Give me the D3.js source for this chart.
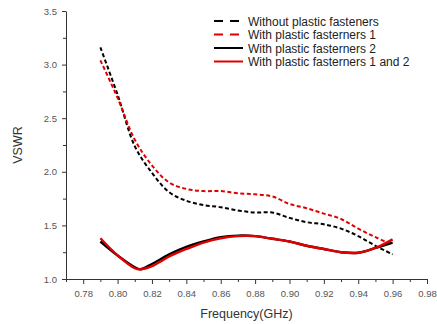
<!DOCTYPE html>
<html>
<head>
<meta charset="utf-8">
<script src="https://cdn.jsdelivr.net/npm/d3@7"></script>
<style>
  html, body { margin: 0; padding: 0; background: #fff; }
  svg { display: block; font-family: "Liberation Sans", Arial, sans-serif; }
  .axis path, .axis line { stroke: #333; stroke-width: 1; }
  .axis text { fill: #555; font-size: 9.5px; }
</style>
</head>
<body>
<div id="chart"></div>
<script>
/* ── DATA ── */
const freq = [0.79, 0.80, 0.81, 0.82, 0.83, 0.84, 0.85, 0.86, 0.87, 0.88, 0.89, 0.90, 0.91, 0.92, 0.93, 0.94, 0.95, 0.96];

const withoutFasteners = [3.16, 2.72, 2.24, 1.99, 1.81, 1.73, 1.69, 1.67, 1.64, 1.62, 1.62, 1.57, 1.53, 1.51, 1.47, 1.40, 1.31, 1.23];
const fasteners1       = [3.04, 2.69, 2.30, 2.06, 1.90, 1.84, 1.82, 1.82, 1.80, 1.79, 1.77, 1.70, 1.66, 1.61, 1.56, 1.47, 1.39, 1.32];

const solidFreq  = [0.79, 0.80, 0.81, 0.813, 0.82, 0.83, 0.84, 0.85, 0.86, 0.87, 0.88, 0.89, 0.90, 0.91, 0.92, 0.93, 0.94, 0.95, 0.96];
const fasteners2  = [1.35, 1.22, 1.11, 1.09, 1.14, 1.23, 1.30, 1.35, 1.39, 1.405, 1.40, 1.375, 1.35, 1.31, 1.28, 1.25, 1.245, 1.29, 1.34];
const fasteners12 = [1.38, 1.22, 1.10, 1.09, 1.12, 1.21, 1.28, 1.34, 1.38, 1.40, 1.40, 1.375, 1.35, 1.31, 1.28, 1.25, 1.245, 1.29, 1.37];

const xTicks = [0.78, 0.80, 0.82, 0.84, 0.86, 0.88, 0.90, 0.92, 0.94, 0.96, 0.98];
const yTicks = [1.0, 1.5, 2.0, 2.5, 3.0, 3.5];

const series = [
  { name: 'Without plastic fasteners',        x: freq,      y: withoutFasteners, color: '#000',    dash: '4,2.5' },
  { name: 'With plastic fasterners 1',        x: freq,      y: fasteners1,       color: '#e00000', dash: '4,2.5' },
  { name: 'With plastic fasterners 2',        x: solidFreq, y: fasteners2,       color: '#000',    dash: null },
  { name: 'With plastic fasterners 1 and 2',  x: solidFreq, y: fasteners12,      color: '#e00000', dash: null },
];

/* ── LAYOUT ── */
const W = 437, H = 324;
const margin = { top: 11, right: 10, bottom: 45, left: 66 };
const iW = W - margin.left - margin.right;
const iH = H - margin.top - margin.bottom;

const x = d3.scaleLinear().domain([0.77, 0.98]).range([0, iW]);
const y = d3.scaleLinear().domain([1.0, 3.5]).range([iH, 0]);

const svg = d3.select('#chart').append('svg').attr('width', W).attr('height', H);
const g = svg.append('g').attr('transform', `translate(${margin.left},${margin.top})`);

// minor ticks
const xMinor = d3.range(0.77, 0.985, 0.01).map(d => +d.toFixed(2)).filter(d => !xTicks.some(t => Math.abs(t - d) < 1e-6));
const yMinor = [1.25, 1.75, 2.25, 2.75, 3.25];

g.append('g').attr('class', 'axis').attr('transform', `translate(0,${iH})`)
  .call(d3.axisBottom(x).tickValues(xMinor).tickSize(3).tickFormat('').tickSizeOuter(0))
  .select('.domain').remove();
g.append('g').attr('class', 'axis')
  .call(d3.axisLeft(y).tickValues(yMinor).tickSize(3).tickFormat('').tickSizeOuter(0))
  .select('.domain').remove();

// major axes
g.append('g').attr('class', 'axis').attr('transform', `translate(0,${iH})`)
  .call(d3.axisBottom(x).tickValues(xTicks).tickSize(5).tickSizeOuter(0).tickPadding(6).tickFormat(d3.format('.2f')));
g.append('g').attr('class', 'axis')
  .call(d3.axisLeft(y).tickValues(yTicks).tickSize(4).tickSizeOuter(0).tickPadding(5).tickFormat(d3.format('.1f')));

// curves
const line = d3.line().curve(d3.curveCatmullRom);
series.forEach(s => {
  const pts = s.x.map((f, i) => [x(f), y(s.y[i])]);
  g.append('path').attr('d', line(pts))
    .attr('fill', 'none').attr('stroke', s.color)
    .attr('stroke-width', s.dash ? 2 : 2.4)
    .attr('stroke-dasharray', s.dash);
});

// axis titles
svg.append('text').attr('x', margin.left + iW / 2).attr('y', 318)
  .attr('text-anchor', 'middle').attr('font-size', 12.5).attr('fill', '#333').text('Frequency(GHz)');
svg.append('text').attr('transform', `translate(22,${margin.top + iH / 2}) rotate(-90)`)
  .attr('text-anchor', 'middle').attr('font-size', 12.5).attr('fill', '#333').text('VSWR');

// legend
const legend = svg.append('g').attr('transform', 'translate(214,21)');
series.forEach((s, i) => {
  const row = legend.append('g').attr('transform', `translate(0,${i * 13.5})`);
  row.append('line').attr('x1', 0).attr('x2', 29).attr('y1', 0).attr('y2', 0)
    .attr('stroke', s.color).attr('stroke-width', 2)
    .attr('stroke-dasharray', s.dash ? '9,7' : null);
  row.append('text').attr('x', 34).attr('y', 4.5).attr('font-size', 12).attr('fill', '#222').text(s.name);
});
</script>
</body>
</html>
